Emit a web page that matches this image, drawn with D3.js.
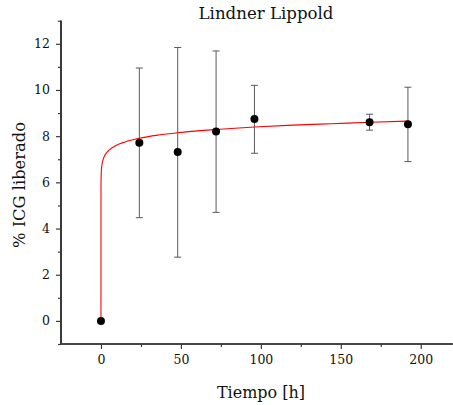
<!DOCTYPE html>
<html>
<head>
<meta charset="utf-8">
<script src="https://cdn.jsdelivr.net/npm/d3@7"></script>
<style>
  html, body { margin: 0; padding: 0; background: #fff; }
  svg { display: block; }
  text { font-family: "DejaVu Serif", "Liberation Serif", serif; fill: #111; }
</style>
</head>
<body>
<script>
// ---- data ----
const times = [0, 24, 48, 72, 96, 168, 192];
const released = [0, 7.72, 7.31, 8.2, 8.74, 8.6, 8.52];
const errUpper = [0, 10.95, 11.84, 11.69, 10.2, 8.95, 10.12];
const errLower = [0, 4.47, 2.76, 4.7, 7.26, 8.26, 6.9];

// fitted Lindner-Lippold curve
const fitTime = [0, 0.0001, 0.001, 0.01, 0.1, 0.3, 0.6, 1, 2, 4, 7, 10, 15, 24, 36, 48, 72, 96, 120, 144, 168, 192];
const fitValue = [0, 4.64, 5.13, 5.66, 6.25, 6.55, 6.75, 6.9, 7.11, 7.32, 7.5, 7.62, 7.75, 7.91, 8.05, 8.15, 8.29, 8.4, 8.48, 8.54, 8.6, 8.65];

const xTicks = [0, 50, 100, 150, 200];
const xMinor = [25, 75, 125, 175];
const yTicks = [0, 2, 4, 6, 8, 10, 12];
const yMinor = [-1, 1, 3, 5, 7, 9, 11, 13];

const title = "Lindner Lippold";
const xLabel = "Tiempo [h]";
const yLabel = "% ICG liberado";

// ---- layout ----
const W = 453, H = 405;
const mLeft = 61, mRight = 452.7, mTop = 20.7, mBottom = 344;

const svg = d3.select("body").append("svg").attr("width", W).attr("height", H);

const x = d3.scaleLinear().domain([-25, 220]).range([mLeft, mRight]);
const y = d3.scaleLinear().domain([-1, 13]).range([mBottom, mTop]);

const axisColor = "#3a3a3a";

// x axis
const gx = svg.append("g").attr("transform", `translate(0,${mBottom})`);
gx.call(d3.axisBottom(x).tickValues(xTicks).tickSize(5).tickPadding(6).tickFormat(d3.format("d")));
gx.append("g").call(d3.axisBottom(x).tickValues(xMinor).tickSize(3).tickFormat(""));
gx.selectAll(".domain").attr("stroke", axisColor).attr("stroke-width", 1.6);
gx.selectAll("path.domain").attr("d", `M${mLeft},0H${mRight}`);
gx.selectAll(".tick line").attr("stroke", axisColor).attr("stroke-width", 1.2);
gx.selectAll(".tick text").style("font-family", "DejaVu Serif").style("font-size", "12.5px").attr("fill", "#111");

// y axis
const gy = svg.append("g").attr("transform", `translate(${mLeft},0)`);
gy.call(d3.axisLeft(y).tickValues(yTicks).tickSize(5).tickPadding(6).tickFormat(d3.format("d")));
gy.append("g").call(d3.axisLeft(y).tickValues(yMinor).tickSize(3).tickFormat(""));
gy.selectAll(".domain").attr("stroke", axisColor).attr("stroke-width", 2);
gy.selectAll("path.domain").attr("d", `M0,${mTop}V${mBottom}`);
gy.selectAll(".tick line").attr("stroke", axisColor).attr("stroke-width", 1.2);
gy.selectAll(".tick text").style("font-family", "DejaVu Serif").style("font-size", "12.5px").attr("fill", "#111");

// error bars
const pts = times.map((t, i) => ({t, v: released[i], hi: errUpper[i], lo: errLower[i]}));
const eb = svg.append("g").attr("stroke", "#5a5a5a").attr("stroke-width", 1).attr("fill", "none");
pts.filter(d => d.hi > d.lo).forEach(d => {
  eb.append("line").attr("x1", x(d.t)).attr("x2", x(d.t)).attr("y1", y(d.hi)).attr("y2", y(d.lo));
  eb.append("line").attr("x1", x(d.t) - 3.5).attr("x2", x(d.t) + 3.5).attr("y1", y(d.hi)).attr("y2", y(d.hi));
  eb.append("line").attr("x1", x(d.t) - 3.5).attr("x2", x(d.t) + 3.5).attr("y1", y(d.lo)).attr("y2", y(d.lo));
});

// fit curve
const line = d3.line().x((d, i) => x(fitTime[i])).y((d, i) => y(fitValue[i])).curve(d3.curveMonotoneX);
svg.append("path").datum(fitTime).attr("d", line).attr("fill", "none").attr("stroke", "#ff0000").attr("stroke-width", 1.1);

// points
svg.append("g").selectAll("circle").data(pts).join("circle")
  .attr("cx", d => x(d.t)).attr("cy", d => y(d.v)).attr("r", 4).attr("fill", "#000");

// titles
svg.append("text").attr("x", 266).attr("y", 19).attr("text-anchor", "middle")
  .style("font-size", "16.6px").text(title);
svg.append("text").attr("x", 261).attr("y", 398).attr("text-anchor", "middle")
  .style("font-size", "16px").text(xLabel);
svg.append("text").attr("transform", `translate(25,185) rotate(-90)`).attr("text-anchor", "middle")
  .style("font-size", "16.3px").text(yLabel);
</script>
</body>
</html>
